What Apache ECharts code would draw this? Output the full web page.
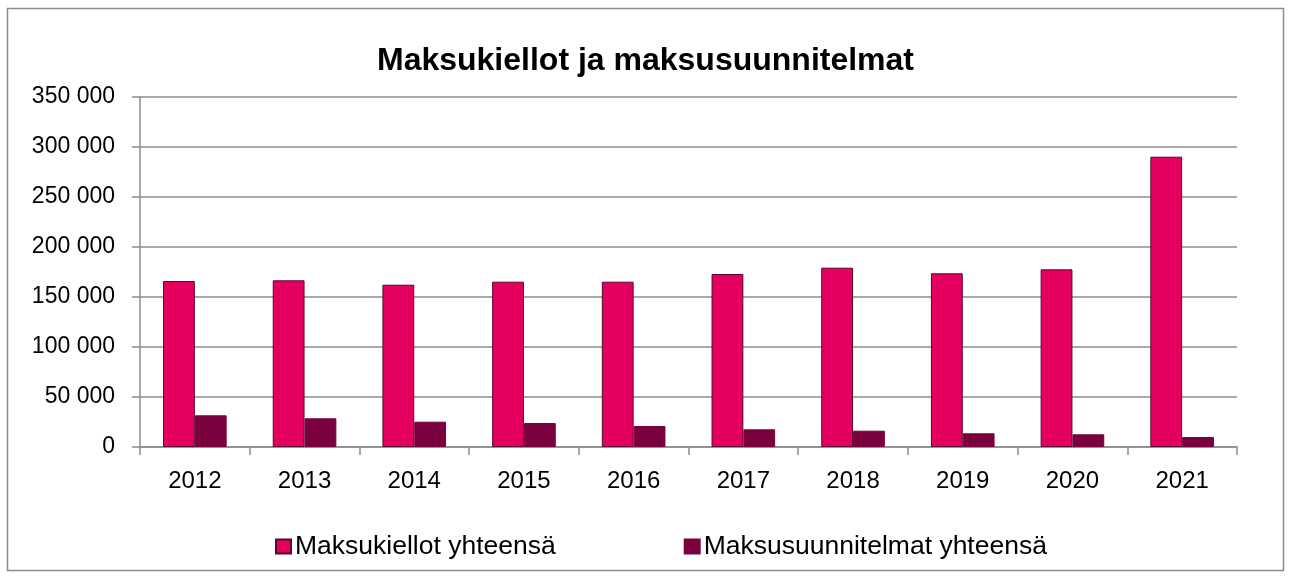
<!DOCTYPE html>
<html>
<head>
<meta charset="utf-8">
<script src="https://cdn.jsdelivr.net/npm/echarts@6/dist/echarts.min.js"></script>
<style>
  html, body { margin: 0; padding: 0; background: #fff; }
  #chart { width: 1291px; height: 578px; }
</style>
</head>
<body>
<div id="chart"></div>
<script>
var years = ['2012', '2013', '2014', '2015', '2016', '2017', '2018', '2019', '2020', '2021'];
var maksukiellot = [166000, 166700, 162300, 165300, 165300, 173000, 179300, 173700, 177700, 290300];
var maksusuunnitelmat = [31700, 28700, 25300, 24000, 21000, 17700, 16300, 13700, 12700, 10000];
var seriesNames = ['Maksukiellot yhteensä', 'Maksusuunnitelmat yhteensä'];

function fmt(v) {
    return String(v).replace(/\B(?=(\d{3})+(?!\d))/g, ' ');
}

var chart = echarts.init(document.getElementById('chart'));
chart.setOption({
    animation: false,
    backgroundColor: '#fff',
    graphic: [{
        type: 'rect',
        shape: { x: 7.5, y: 8.5, width: 1276, height: 562 },
        style: { fill: 'none', stroke: '#8c8c8c', lineWidth: 1.5 },
        silent: true
    }],
    title: {
        text: 'Maksukiellot ja maksusuunnitelmat',
        left: 'center',
        top: 40,
        textStyle: {
            fontFamily: 'Liberation Sans',
            fontWeight: 'bold',
            fontSize: 32,
            color: '#000'
        }
    },
    legend: {
        data: seriesNames,
        top: 528,
        left: 270,
        itemGap: 128,
        itemWidth: 15,
        itemHeight: 14,
        icon: 'rect',
        textStyle: {
            fontFamily: 'Liberation Sans',
            fontSize: 26.5,
            color: '#000',
            padding: [0, 0, 0, -1]
        }
    },
    grid: {
        left: 140,
        right: 54,
        top: 97,
        bottom: 131
    },
    xAxis: {
        type: 'category',
        data: years,
        axisLine: { lineStyle: { color: '#8c8c8c', width: 1.5 } },
        axisTick: { show: true, length: 8, lineStyle: { color: '#8c8c8c', width: 1.5 } },
        axisLabel: {
            fontFamily: 'Liberation Sans',
            fontSize: 24,
            color: '#000',
            margin: 22
        }
    },
    yAxis: {
        type: 'value',
        min: 0,
        max: 350000,
        interval: 50000,
        axisLine: { show: true, lineStyle: { color: '#8c8c8c', width: 1.5 } },
        axisTick: { show: true, length: 8, lineStyle: { color: '#8c8c8c', width: 1.5 } },
        splitLine: { lineStyle: { color: '#8c8c8c', width: 1.5 } },
        axisLabel: {
            fontFamily: 'Liberation Sans',
            fontSize: 23,
            color: '#000',
            margin: 25,
            formatter: fmt
        }
    },
    series: [
        {
            name: seriesNames[0],
            type: 'bar',
            data: maksukiellot,
            barGap: '0%',
            barCategoryGap: '42%',
            itemStyle: { color: '#e5005f', borderColor: '#5a0630', borderWidth: 1 }
        },
        {
            name: seriesNames[1],
            type: 'bar',
            data: maksusuunnitelmat,
            itemStyle: { color: '#7a003e', borderColor: '#7a003e', borderWidth: 1 }
        }
    ]
});
</script>
</body>
</html>
